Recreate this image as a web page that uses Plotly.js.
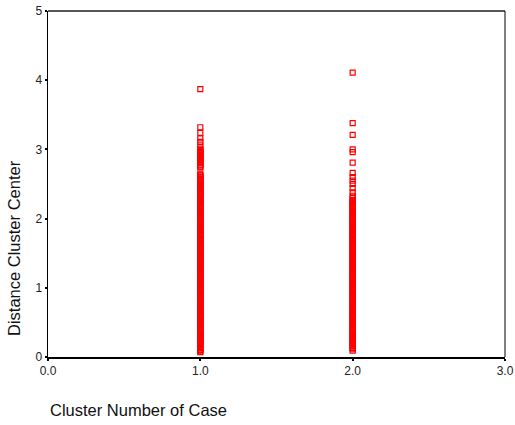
<!DOCTYPE html>
<html>
<head>
<meta charset="utf-8">
<script src="https://cdn.plot.ly/plotly-3.0.1.min.js"></script>
<style>
  html, body { margin: 0; padding: 0; background: #fff; }
  #chart { width: 515px; height: 425px; }
</style>
</head>
<body>
<div id="chart"></div>
<script>
// Distance of each case to its cluster center, by assigned cluster
const cluster1Distances = [
  0.07,0.08,0.10,0.11,0.13,0.14,0.16,0.17,0.19,0.20,0.22,0.23,0.25,0.26,0.28,0.29,0.31,0.32,0.34,0.35,
  0.37,0.38,0.40,0.41,0.43,0.44,0.46,0.47,0.49,0.50,0.52,0.53,0.55,0.56,0.58,0.59,0.61,0.62,0.64,0.65,
  0.67,0.68,0.70,0.71,0.73,0.74,0.76,0.77,0.79,0.80,0.82,0.83,0.85,0.86,0.88,0.89,0.91,0.92,0.94,0.95,
  0.97,0.98,1.00,1.01,1.03,1.04,1.06,1.07,1.09,1.10,1.12,1.13,1.15,1.16,1.18,1.19,1.21,1.22,1.24,1.25,
  1.27,1.28,1.30,1.31,1.33,1.34,1.36,1.37,1.39,1.40,1.42,1.43,1.45,1.46,1.48,1.49,1.51,1.52,1.54,1.55,
  1.57,1.58,1.60,1.61,1.63,1.64,1.66,1.67,1.69,1.70,1.72,1.73,1.75,1.76,1.78,1.79,1.81,1.82,1.84,1.85,
  1.87,1.88,1.90,1.91,1.93,1.94,1.96,1.97,1.99,2.00,2.02,2.03,2.05,2.06,2.08,2.09,2.11,2.12,2.14,2.15,
  2.17,2.18,2.20,2.21,2.23,2.24,2.26,2.27,2.29,2.30,2.32,2.33,2.35,2.36,2.38,2.39,2.41,2.42,2.44,2.45,
  2.47,2.48,2.50,2.51,2.53,2.54,2.56,2.57,2.59,2.60,2.62,2.63,2.65,
  2.74,2.75,2.77,2.78,2.80,2.81,2.83,2.84,2.86,2.87,2.89,2.90,2.92,2.93,2.95,2.96,2.98,2.99,3.01,
  3.06,3.11,3.16,3.24,3.32,3.87
];
const cluster2Distances = [
  0.09,0.11,0.13,0.14,0.16,0.17,0.19,0.20,0.22,0.23,0.25,0.26,0.28,0.29,0.31,0.32,0.34,0.35,
  0.37,0.38,0.40,0.41,0.43,0.44,0.46,0.47,0.49,0.50,0.52,0.53,0.55,0.56,0.58,0.59,0.61,0.62,0.64,0.65,
  0.67,0.68,0.70,0.71,0.73,0.74,0.76,0.77,0.79,0.80,0.82,0.83,0.85,0.86,0.88,0.89,0.91,0.92,0.94,0.95,
  0.97,0.98,1.00,1.01,1.03,1.04,1.06,1.07,1.09,1.10,1.12,1.13,1.15,1.16,1.18,1.19,1.21,1.22,1.24,1.25,
  1.27,1.28,1.30,1.31,1.33,1.34,1.36,1.37,1.39,1.40,1.42,1.43,1.45,1.46,1.48,1.49,1.51,1.52,1.54,1.55,
  1.57,1.58,1.60,1.61,1.63,1.64,1.66,1.67,1.69,1.70,1.72,1.73,1.75,1.76,1.78,1.79,1.81,1.82,1.84,1.85,
  1.87,1.88,1.90,1.91,1.93,1.94,1.96,1.97,1.99,2.00,2.02,2.03,2.05,2.06,2.08,2.09,2.11,2.12,2.14,2.15,
  2.17,2.18,2.20,2.21,2.23,2.24,2.26,2.27,
  2.30,2.33,2.38,2.44,2.50,2.55,2.60,2.66,2.81,2.96,3.00,3.21,3.38,4.11
];
const clusterNumbers = [1.0, 2.0];
const xTickValues = [0, 1, 2, 3];
const xTickLabels = ['0.0', '1.0', '2.0', '3.0'];
const yTickValues = [0, 1, 2, 3, 4, 5];

const xs = [];
const ys = [];
[cluster1Distances, cluster2Distances].forEach((vals, i) => {
  vals.forEach(v => { xs.push(clusterNumbers[i]); ys.push(v); });
});

const trace = {
  type: 'scatter',
  mode: 'markers',
  x: xs,
  y: ys,
  marker: {
    symbol: 'square-open',
    size: 5,
    color: '#ff0000',
    line: { width: 1.2, color: '#ff0000' }
  },
  hoverinfo: 'x+y'
};

const tickFont = { family: 'Liberation Sans, Arial, sans-serif', size: 12, color: '#222' };
const titleFont = { family: 'Liberation Sans, Arial, sans-serif', size: 16.5, color: '#111' };

const layout = {
  width: 515,
  height: 425,
  margin: { l: 48, r: 10, t: 11, b: 68 },
  paper_bgcolor: '#fff',
  plot_bgcolor: '#fff',
  showlegend: false,
  xaxis: {
    range: [0, 3],
    tickvals: xTickValues,
    ticktext: xTickLabels,
    ticks: 'outside',
    ticklen: 2,
    tickwidth: 2,
    tickcolor: '#000',
    showline: true,
    linecolor: '#000',
    linewidth: 1.5,
    showgrid: false,
    zeroline: false,
    tickfont: tickFont
  },
  yaxis: {
    range: [0, 5],
    tickvals: yTickValues,
    ticks: 'outside',
    ticklen: 2,
    tickwidth: 2,
    tickcolor: '#000',
    showline: true,
    linecolor: '#000',
    linewidth: 1.5,
    showgrid: false,
    zeroline: false,
    tickfont: tickFont
  },
  shapes: [
    { type: 'line', xref: 'paper', yref: 'paper', x0: 0, x1: 1, y0: 1, y1: 1,
      line: { color: '#555', width: 2 } },
    { type: 'line', xref: 'paper', yref: 'paper', x0: 1, x1: 1, y0: 0, y1: 1,
      line: { color: '#000', width: 1 } }
  ],
  annotations: [
    { text: 'Cluster Number of Case', xref: 'paper', yref: 'paper',
      x: 0, y: 0, xanchor: 'left', yanchor: 'middle', yshift: -53,
      showarrow: false, font: titleFont },
    { text: 'Distance Cluster Center', xref: 'paper', yref: 'paper',
      x: 0, y: 0, xanchor: 'center', yanchor: 'bottom', xshift: -34, yshift: 19,
      textangle: -90, showarrow: false, font: titleFont }
  ]
};

Plotly.newPlot('chart', [trace], layout, { displayModeBar: false, staticPlot: true });
</script>
</body>
</html>
